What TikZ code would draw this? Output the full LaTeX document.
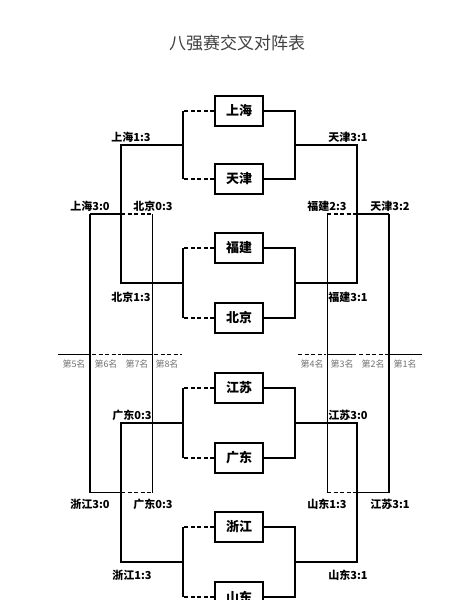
\documentclass[tikz,border=0pt]{standalone}
\usepackage{fontspec}
\usetikzlibrary{calc}
\setmainfont{Noto Sans CJK SC}
\tikzset{
  team/.style={draw, line width=1.3pt, minimum width=48pt, minimum height=30pt, inner sep=0pt, font=\fontsize{13}{13}\selectfont\bfseries},
  score/.style={inner sep=0pt, font=\fontsize{11}{11}\selectfont\bfseries},
  rank/.style={inner sep=0pt, text=black!55, font=\fontsize{9}{9}\selectfont},
  main/.style={line width=1.3pt},
  thin/.style={line width=0.8pt},
  lose/.style={line width=1.3pt, dash pattern=on 4pt off 2.5pt},
  loset/.style={line width=1pt, dash pattern=on 4pt off 2.5pt},
}
\begin{document}
\begin{tikzpicture}[x=1pt,y=-1pt]
\useasboundingbox (0,0) rectangle (465,600);
\clip (0,0) rectangle (465,600);
\fill[white] (0,0) rectangle (465,600);
% title
\node[inner sep=0pt, text=black!75, font=\fontsize{17}{17}\selectfont] (title) at (237,43) {八强赛交叉对阵表};
% team boxes
\node[team] (SH) at (239,111) {上海};
\node[team] (TJ) at (239,179) {天津};
\node[team] (FJ) at (239,248) {福建};
\node[team] (BJ) at (239,318) {北京};
\node[team] (JS) at (239,388) {江苏};
\node[team] (GD) at (239,458) {广东};
\node[team] (ZJ) at (239,527) {浙江};
\node[team] (SD) at (239,597) {山东};
% quarter-final brackets
\foreach \a/\b/\n in {SH/TJ/q1,FJ/BJ/q2,JS/GD/q3,ZJ/SD/q4}{
  \coordinate (\n la) at (183,0 |- \a.west);
  \coordinate (\n lb) at (183,0 |- \b.west);
  \coordinate (\n ra) at (295,0 |- \a.east);
  \coordinate (\n rb) at (295,0 |- \b.east);
  \coordinate (\n lm) at ($(\n la)!0.5!(\n lb)$);
  \coordinate (\n rm) at ($(\n ra)!0.5!(\n rb)$);
  \draw[lose] (\a.west) -- (\n la);
  \draw[lose] (\b.west) -- (\n lb);
  \draw[main] (\n la) -- (\n lb);
  \draw[main] (\a.east) -- (\n ra) -- (\n rb) -- (\b.east);
}
% semi-final brackets
\coordinate (s1l) at (121,0 |- q1lm);
\coordinate (s2l) at (121,0 |- q2lm);
\coordinate (s1r) at (357,0 |- q1rm);
\coordinate (s2r) at (357,0 |- q2rm);
\draw[main] (q1lm) -- (s1l) -- (s2l) -- (q2lm);
\draw[main] (q1rm) -- (s1r) -- (s2r) -- (q2rm);
\coordinate (s3l) at (121,0 |- q3lm);
\coordinate (s4l) at (121,0 |- q4lm);
\coordinate (s3r) at (357,0 |- q3rm);
\coordinate (s4r) at (357,0 |- q4rm);
\draw[main] (q3lm) -- (s3l) -- (s4l) -- (q4lm);
\draw[main] (q3rm) -- (s3r) -- (s4r) -- (q4rm);
% classification connectors
\coordinate (tlm) at ($(s1l)!0.5!(s2l)$);
\coordinate (trm) at ($(s1r)!0.5!(s2r)$);
\coordinate (blm) at ($(s3l)!0.5!(s4l)$);
\coordinate (brm) at ($(s3r)!0.5!(s4r)$);
\coordinate (t5) at (90,0 |- tlm);
\coordinate (t8) at (152,0 |- tlm);
\coordinate (b5) at (90,0 |- blm);
\coordinate (b8) at (152,0 |- blm);
\coordinate (t4) at (327,0 |- trm);
\coordinate (t1) at (389,0 |- trm);
\coordinate (b4) at (327,0 |- brm);
\coordinate (b1) at (389,0 |- brm);
\draw[main] (t5) -- (tlm);
\draw[lose] (tlm) -- (t8);
\draw[main] (b5) -- (blm);
\draw[lose] (blm) -- (b8);
\draw[lose] (t4) -- (trm);
\draw[main] (trm) -- (t1);
\draw[lose] (b4) -- (brm);
\draw[main] (brm) -- (b1);
\draw[main] (t5) -- (b5);
\draw[thin] (t8) -- (b8);
\draw[thin] (t4) -- (b4);
\draw[main] (t1) -- (b1);
% rank line
\coordinate (r0) at (58,354);
\coordinate (r1) at (90,354);
\coordinate (r2) at (121,354);
\coordinate (r3) at (152,354);
\coordinate (r4) at (182,354);
\coordinate (r5) at (298,354);
\coordinate (r6) at (327,354);
\coordinate (r7) at (357,354);
\coordinate (r8) at (389,354);
\coordinate (r9) at (422,354);
\draw[line width=1pt] (r0) -- (r1);
\draw[loset] ([xshift=2pt]r1) -- (r2);
\draw[line width=1pt] ([xshift=1pt]r2) -- (r3);
\draw[loset] ([xshift=2pt]r3) -- (r4);
\draw[loset] (r5) -- ([xshift=-1pt]r6);
\draw[line width=1pt] (r6) -- ([xshift=-1pt]r7);
\draw[loset] ([xshift=2pt]r7) -- ([xshift=-1pt]r8);
\draw[line width=1pt] (r8) -- (r9);
\node[rank] (k5) at (74,364) {第5名};
\node[rank] (k6) at (106,364) {第6名};
\node[rank] (k7) at (137,364) {第7名};
\node[rank] (k8) at (167,364) {第8名};
\node[rank] (k4) at (312,364) {第4名};
\node[rank] (k3) at (342,364) {第3名};
\node[rank] (k2) at (373,364) {第2名};
\node[rank] (k1) at (405,364) {第1名};
% score labels
\node[score] (l1) at (131,137) {上海1:3};
\node[score] (l2) at (348,137) {天津3:1};
\node[score] (l3) at (90,206) {上海3:0};
\node[score] (l4) at (153,206) {北京0:3};
\node[score] (l5) at (327,206) {福建2:3};
\node[score] (l6) at (390,206) {天津3:2};
\node[score] (l7) at (131,297) {北京1:3};
\node[score] (l8) at (348,297) {福建3:1};
\node[score] (l9) at (132,415) {广东0:3};
\node[score] (l10) at (348,415) {江苏3:0};
\node[score] (l11) at (90,504) {浙江3:0};
\node[score] (l12) at (153,504) {广东0:3};
\node[score] (l13) at (327,504) {山东1:3};
\node[score] (l14) at (390,504) {江苏3:1};
\node[score] (l15) at (132,575) {浙江1:3};
\node[score] (l16) at (348,575) {山东3:1};
\end{tikzpicture}
\end{document}
